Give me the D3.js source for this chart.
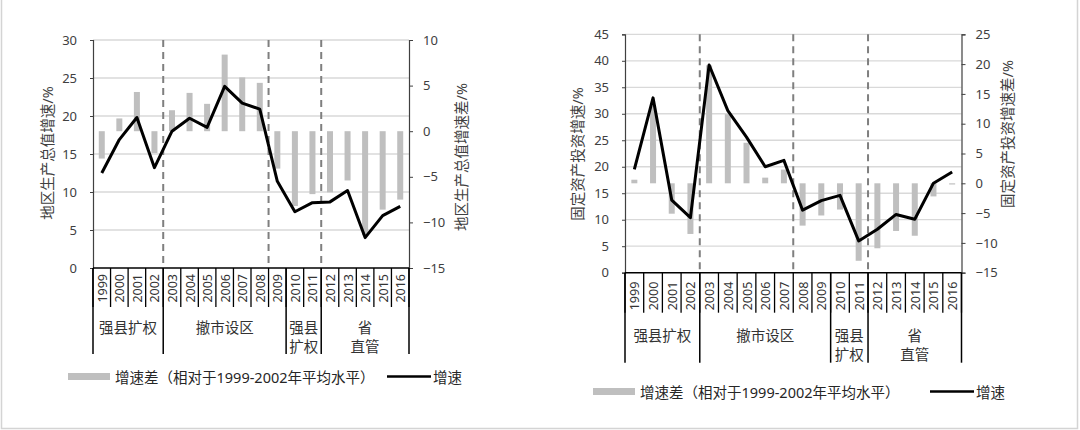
<!DOCTYPE html>
<html><head><meta charset="utf-8">
<script src="https://cdn.jsdelivr.net/npm/d3@7/dist/d3.min.js"></script>
<style>
html,body{margin:0;padding:0;background:#fff;}
svg{display:block;}
text{font-family:"Noto Sans","Noto Sans CJK SC",sans-serif;fill:#404040;}
</style></head>
<body>
<svg id="c" width="1080" height="430"></svg>
<script>
// ---------- data ----------
const years = ["1999","2000","2001","2002","2003","2004","2005","2006","2007","2008","2009","2010","2011","2012","2013","2014","2015","2016"];
const gdpGrowth = [12.5,16.9,19.8,13.2,18.0,19.7,18.5,23.9,21.7,20.9,11.4,7.4,8.6,8.7,10.2,4.0,6.9,8.1];
const gdpDiff   = [-3.0,1.4,4.3,-2.4,2.3,4.2,3.0,8.4,5.9,5.3,-4.1,-8.2,-6.9,-6.7,-5.4,-11.4,-8.6,-7.5];
const invGrowth = [19.5,33.0,13.7,10.4,39.2,30.6,25.6,20.0,21.2,11.8,13.6,14.6,6.0,8.2,11.0,10.1,16.9,19.0];
const invDiff   = [0.6,13.0,-5.1,-8.5,19.8,11.6,6.8,0.95,2.3,-7.1,-5.4,-4.4,-13.0,-10.9,-8.0,-8.8,-2.2,-0.2];
const leftTicksA = [0,5,10,15,20,25,30];
const rightTicksA = [-15,-10,-5,0,5,10];
const leftTicksB = [0,5,10,15,20,25,30,35,40,45];
const rightTicksB = [-15,-10,-5,0,5,10,15,20,25];
const groups = [
  {name:["强县扩权"], from:"1999", to:"2002"},
  {name:["撤市设区"], from:"2003", to:"2009"},
  {name:["强县","扩权"], from:"2010", to:"2011"},
  {name:["省","直管"], from:"2012", to:"2016"}
];
const dashedBeforeA = ["2003","2009","2012"];
const dashedBeforeB = ["2003","2008","2012"];
const titlesA = {left:"地区生产总值增速/%", right:"地区生产总值增速差/%"};
const titlesB = {left:"固定资产投资增速/%", right:"固定资产投资增速差/%"};
const legendLabels = {bar:"增速差（相对于1999-2002年平均水平）", line:"增速"};

const svg = d3.select("#c");

// frame
svg.append("path").attr("d","M1.5,-2 V428.5 H1077.5 V-2").attr("fill","none").attr("stroke","#d4d4d4").attr("stroke-width",1.5);

function drawChart(o){
  const g = svg.append("g");
  const x = d3.scaleBand().domain(years).range([o.x0,o.x1]).padding(0);
  const yL = d3.scaleLinear().domain([o.lt[0],o.lt[o.lt.length-1]]).range([o.yb,o.yt]);
  const yR = d3.scaleLinear().domain([o.rt[0],o.rt[o.rt.length-1]]).range([o.yb,o.yt]);

  // gridlines
  g.append("g").selectAll("line").data(o.lt.filter(v=>v>o.lt[0])).join("line")
    .attr("x1",o.x0).attr("x2",o.x1).attr("y1",d=>yL(d)).attr("y2",d=>yL(d))
    .attr("stroke","#d9d9d9").attr("stroke-width",1.3);

  // bars
  const bw = o.bw;
  g.append("g").selectAll("rect").data(o.diff).join("rect")
    .attr("x",(d,i)=>x(years[i])+x.bandwidth()/2-bw/2)
    .attr("width",bw)
    .attr("y",d=>Math.min(yR(d),yR(0)))
    .attr("height",d=>Math.max(1,Math.abs(yR(d)-yR(0))))
    .attr("fill","#bfbfbf");

  // dashed lines
  g.append("g").selectAll("line").data(o.dashed).join("line")
    .attr("x1",d=>x(d)).attr("x2",d=>x(d)).attr("y1",o.yt).attr("y2",o.yb)
    .attr("stroke","#7f7f7f").attr("stroke-width",2).attr("stroke-dasharray","7,5");

  // left axis
  const axL = g.append("g").attr("transform",`translate(${o.x0},0)`)
    .call(d3.axisLeft(yL).tickValues(o.lt).tickSize(3).tickPadding(13));
  axL.select(".domain").attr("stroke","#404040").attr("stroke-width",1.2);
  axL.selectAll(".tick line").attr("stroke","#404040");
  axL.selectAll("text").attr("font-size",13).style("fill","#404040").attr("font-family","Noto Sans");

  // right axis
  const axR = g.append("g").attr("transform",`translate(${o.x1},0)`)
    .call(d3.axisRight(yR).tickValues(o.rt).tickSize(4).tickPadding(10));
  axR.select(".domain").attr("stroke","#404040").attr("stroke-width",1.2);
  axR.selectAll(".tick line").attr("stroke","#404040");
  axR.selectAll("text").attr("font-size",13).style("fill","#404040").attr("font-family","Noto Sans");

  // line
  const line = d3.line().x((d,i)=>x(years[i])+x.bandwidth()/2).y(d=>yL(d));
  g.append("path").datum(o.growth).attr("d",line).attr("fill","none")
    .attr("stroke","#000").attr("stroke-width",3).attr("stroke-linejoin","round");

  // x axis
  g.append("line").attr("x1",o.x0).attr("x2",o.x1).attr("y1",o.yb).attr("y2",o.yb)
    .attr("stroke","#000").attr("stroke-width",1.5);
  const bounds = years.map(d=>x(d)).concat([o.x1]);
  g.append("g").selectAll("line").data(bounds).join("line")
    .attr("x1",d=>d).attr("x2",d=>d).attr("y1",o.yb).attr("y2",o.yb+o.tickLen)
    .attr("stroke","#000").attr("stroke-width",1.3);
  g.append("g").selectAll("text").data(years).join("text")
    .attr("transform",d=>`translate(${x(d)+x.bandwidth()/2+0.5},${o.yb+o.yearOff}) rotate(-90)`)
    .attr("text-anchor","end").attr("dominant-baseline","central")
    .attr("font-size",12.5).attr("font-family","Noto Sans").style("fill","#333").text(d=>d);

  // group separators & labels
  const seps = groups.map(gr=>x(gr.from)).concat([o.x1]);
  g.append("g").selectAll("line").data(seps).join("line")
    .attr("x1",d=>d).attr("x2",d=>d).attr("y1",o.yb).attr("y2",o.yb+o.sepLen)
    .attr("stroke","#000").attr("stroke-width",1.5);
  groups.forEach(gr=>{
    const cx = (x(gr.from)+x(gr.to)+x.bandwidth())/2;
    gr.name.forEach((t,k)=>{
      g.append("text").attr("x",cx).attr("y",o.grpY+k*o.grpDy)
        .attr("text-anchor","middle").attr("dominant-baseline","central")
        .attr("font-size",14.5).attr("font-family","Noto Sans CJK SC").style("fill","#333").text(t);
    });
  });

  // axis titles
  g.append("text").attr("transform",`translate(${o.tl[0]},${o.tl[1]}) rotate(-90)`)
    .attr("text-anchor","middle").attr("dominant-baseline","central")
    .attr("font-size",14.5).attr("font-family","Noto Sans CJK SC").style("fill","#404040").text(o.titles.left);
  g.append("text").attr("transform",`translate(${o.tr[0]},${o.tr[1]}) rotate(-90)`)
    .attr("text-anchor","middle").attr("dominant-baseline","central")
    .attr("font-size",14.5).attr("font-family","Noto Sans CJK SC").style("fill","#404040").text(o.titles.right);

  // legend
  const L = o.legend;
  g.append("rect").attr("x",L.bx).attr("y",L.y-3.5).attr("width",42).attr("height",7).attr("fill","#bfbfbf");
  g.append("text").attr("x",L.bx+47).attr("y",L.y).attr("dominant-baseline","central")
    .attr("font-size",14.5).attr("font-family","Noto Sans CJK SC").style("fill","#262626").text(legendLabels.bar);
  g.append("line").attr("x1",L.lx).attr("x2",L.lx+44).attr("y1",L.y).attr("y2",L.y)
    .attr("stroke","#000").attr("stroke-width",2.5);
  g.append("text").attr("x",L.lx+46).attr("y",L.y).attr("dominant-baseline","central")
    .attr("font-size",14.5).attr("font-family","Noto Sans CJK SC").style("fill","#262626").text(legendLabels.line);
}

drawChart({x0:93,x1:409,yt:40,yb:268,lt:leftTicksA,rt:rightTicksA,
  growth:gdpGrowth,diff:gdpDiff,dashed:dashedBeforeA,bw:6,
  tickLen:39,yearOff:6,sepLen:86,grpY:327,grpDy:19,
  tl:[47,153],tr:[461,157],titles:titlesA,
  legend:{bx:68,lx:387,y:376.5}});

drawChart({x0:625,x1:961.5,yt:34.3,yb:272.7,lt:leftTicksB,rt:rightTicksB,
  growth:invGrowth,diff:invDiff,dashed:dashedBeforeB,bw:6,
  tickLen:40,yearOff:9,sepLen:90,grpY:335,grpDy:19,
  tl:[577,154],tr:[1007,134],titles:titlesB,
  legend:{bx:593,lx:930,y:391.5}});
</script>
</body></html>
